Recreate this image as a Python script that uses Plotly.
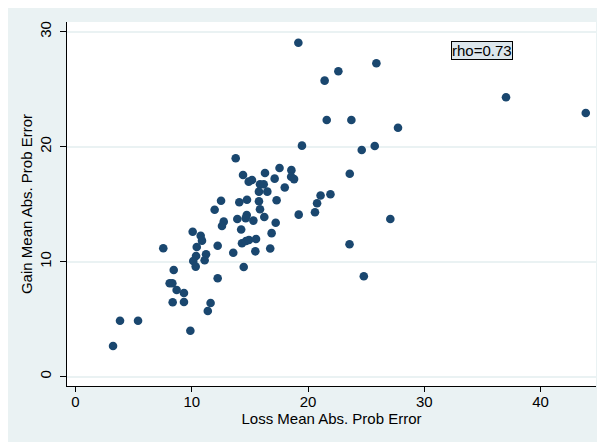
import plotly.graph_objects as go

# Data
loss_err = [
    19.17, 25.88, 22.61, 21.43, 37.03, 43.89, 21.61, 23.73, 27.74, 19.48,
    25.74, 24.62, 17.55, 18.57, 18.55, 18.80, 18.00, 23.59, 21.08, 21.93,
    20.78, 20.60, 19.20, 27.08, 23.57, 24.80, 17.13, 17.30, 13.78, 14.41,
    15.18, 14.90, 16.30, 15.87, 16.19, 15.78, 16.50, 12.52, 11.97, 14.09,
    14.75, 15.78, 15.87, 14.73, 14.64, 15.30, 13.92, 16.24, 17.22, 12.75,
    12.60, 14.25, 16.87, 10.08, 10.77, 10.88, 12.23, 10.43, 10.37, 11.23,
    11.11, 10.13, 10.34, 12.23, 14.32, 14.67, 14.92, 15.53, 13.57, 15.47,
    16.75, 14.47, 9.33, 9.33, 11.62, 11.38, 9.88, 7.55, 8.45, 8.10,
    8.33, 8.70, 8.36, 3.83, 5.38, 3.23,
]
gain_err = [
    29.04, 27.25, 26.56, 25.74, 24.30, 22.93, 22.32, 22.32, 21.65, 20.09,
    20.06, 19.71, 18.14, 17.96, 17.38, 17.18, 16.45, 17.65, 15.76, 15.86,
    15.08, 14.30, 14.09, 13.71, 11.52, 8.73, 17.22, 15.34, 18.99, 17.54,
    17.10, 16.96, 17.71, 16.73, 16.73, 16.09, 16.09, 15.30, 14.52, 15.17,
    15.39, 15.25, 14.56, 14.06, 13.77, 13.57, 13.71, 13.89, 13.38, 13.48,
    13.10, 12.80, 12.48, 12.60, 12.25, 11.83, 11.39, 11.27, 10.50, 10.64,
    10.13, 10.06, 9.57, 8.56, 11.60, 11.80, 11.89, 11.97, 10.78, 10.90,
    11.15, 9.54, 7.28, 6.50, 6.41, 5.71, 4.00, 11.17, 9.28, 8.12,
    8.12, 7.54, 6.47, 4.87, 4.87, 2.67,
]
x_ticks = [0, 10, 20, 30, 40]
y_ticks = [0, 10, 20, 30]
rho_label = "rho=0.73"

BG = "#EAF2F3"
NAVY = "#1A476F"
FONT = "Liberation Sans, Arial, sans-serif"

# page body adds an 8px margin, so the figure is sized to fill the rest
W, H = 597, 434
ML, MR, MT, MB = 59, 9, 14, 56

fig = go.Figure()
fig.add_trace(go.Scatter(
    x=loss_err, y=gain_err, mode="markers",
    marker=dict(color=NAVY, size=8.6, line=dict(width=0)),
    showlegend=False, hoverinfo="x+y",
))

fig.add_annotation(
    x=34.97, y=28.37, xref="x", yref="y", text=rho_label, showarrow=False,
    font=dict(family=FONT, size=15, color="black"),
    bgcolor="#DCE6EC", bordercolor="black", borderwidth=1, borderpad=0,
)

fig.update_layout(
    width=W, height=H,
    margin=dict(l=ML, r=MR, t=MT, b=MB, pad=0),
    paper_bgcolor=BG, plot_bgcolor="white",
    font=dict(family=FONT, size=15, color="black"),
    xaxis=dict(
        range=[-0.73, 44.77], tickvals=x_ticks, ticks="outside", ticklen=5,
        tickcolor="black", showline=True, linecolor="black", linewidth=1,
        showgrid=False, zeroline=False, mirror=False,
        title=dict(text="Loss Mean Abs. Prob Error", standoff=2,
                   font=dict(size=15)),
        tickfont=dict(size=15), ticklabelstandoff=-3, automargin=False,
    ),
    yaxis=dict(
        range=[-0.81, 30.84], tickvals=y_ticks, ticks="outside", ticklen=6,
        tickcolor="black", showline=True, linecolor="black", linewidth=1,
        showgrid=True, gridcolor=BG, gridwidth=1.5, zeroline=False,
        tickangle=-90, tickfont=dict(size=15), ticklabelstandoff=3,
        title=dict(text="Gain Mean Abs. Prob Error", standoff=0,
                   font=dict(size=15)),
        automargin=False,
    ),
)

fig.write_html("out.html")
